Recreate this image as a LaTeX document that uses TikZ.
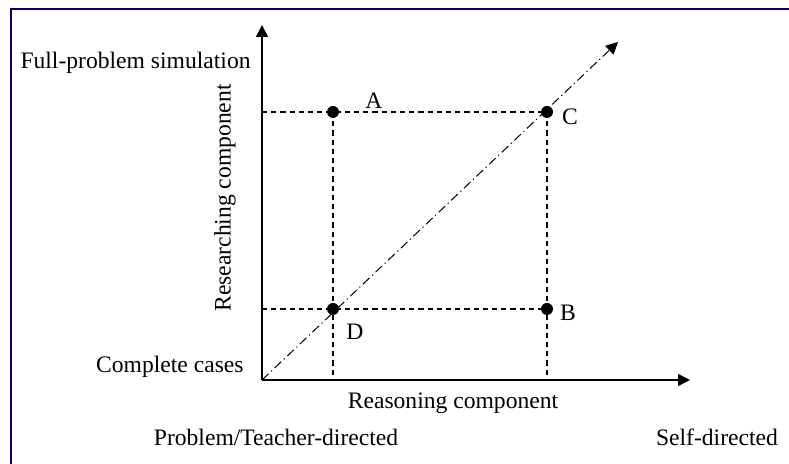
\documentclass[tikz,border=0pt]{standalone}
\usepackage{fontspec}
\setmainfont{Liberation Serif}
\usepackage{tikz}
\usetikzlibrary{arrows.meta,positioning}
\definecolor{framenavy}{RGB}{0,0,110}

\begin{document}
\begin{tikzpicture}[
    x=0.5pt, y=0.5pt,
    font=\fontsize{11.8}{14}\selectfont,
    axis/.style={line width=0.8pt, -{Triangle[length=6pt,width=6pt]}},
    guide/.style={line width=0.6pt, dash pattern=on 2.6pt off 2pt},
    diag/.style={line width=0.5pt, dash pattern=on 4.5pt off 1.8pt on 0.6pt off 1.8pt,
      -{Triangle[length=6pt,width=6pt]}},
    dot/.style={circle, fill, inner sep=0pt, minimum size=6pt},
    lbl/.style={inner sep=1pt}
  ]
  \useasboundingbox (0,0) rectangle (789,464);
  % frame (only top and left edges show)
  \draw[framenavy, line width=1pt] (11,0) -- (11,454.5) -- (789,454.5);

  \coordinate (O) at (262,84);
  \coordinate (ytip) at (262,439);
  \coordinate (xtip) at (690,84);
  \coordinate (dtip) at (618,422);

  \node[dot] (ptA) at (333,352) {};
  \node[dot] (ptC) at (547,352) {};
  \node[dot] (ptD) at (333,155) {};
  \node[dot] (ptB) at (547,155) {};

  \draw[guide] (O |- ptA) -- (ptC.center);
  \draw[guide] (O |- ptD) -- (ptB.center);
  \draw[guide] (ptA.center) -- (O -| ptA);
  \draw[guide] (ptC.center) -- (O -| ptC);
  \draw[diag] (O) -- (dtip);
  \draw[axis] (O) -- (ytip);
  \draw[axis] (O) -- (xtip);

  \node[lbl] (labA) at (374,363) {A};
  \node[lbl] (labC) at (570,347) {C};
  \node[lbl] (labB) at (568,151) {B};
  \node[lbl] (labD) at (355,132) {D};

  \node[lbl, anchor=east] (fullsim) at (253,401) {Full-problem simulation};
  \node[lbl, anchor=east] (complete) at (246,97) {Complete cases};
  \node[lbl, rotate=90] (research) at (225,266) {Researching component};
  \node[lbl] (reason) at (453,61) {Reasoning component};
  \node[lbl] (teacher) at (276,27) {Problem/Teacher-directed};
  \node[lbl] (selfdir) at (717,27) {Self-directed};
\end{tikzpicture}
\end{document}
